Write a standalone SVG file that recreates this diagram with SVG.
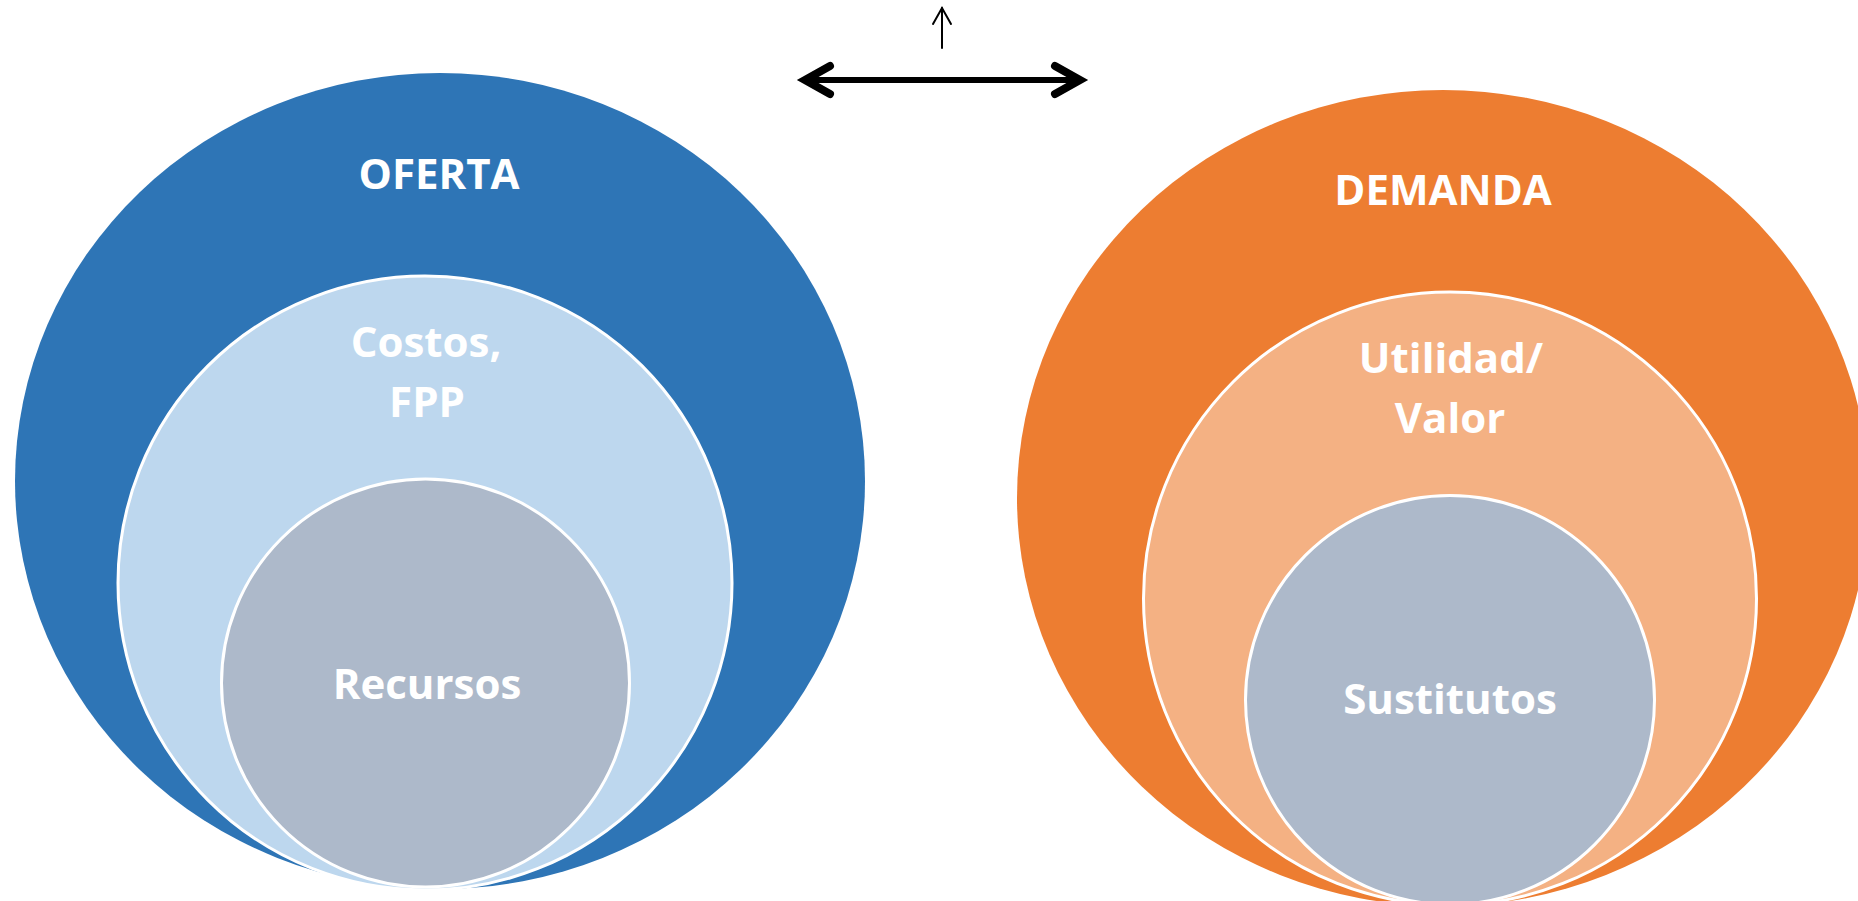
<svg xmlns="http://www.w3.org/2000/svg" width="1858" height="901" viewBox="0 0 1858 901">
<style>
.lbl{font-family:"Open Sans","Noto Sans","Liberation Sans",sans-serif;font-weight:bold;font-size:42px;fill:#FFFFFF;text-anchor:middle}
.inner{stroke:#FFFFFF;stroke-width:3}
.arr{fill:none;stroke:#000000;stroke-linecap:round}
</style>
<rect width="1858" height="901" fill="#FFFFFF"/>
<g id="oferta">
<ellipse cx="440" cy="481" rx="425" ry="408" fill="#2E75B6"/>
<text class="lbl" x="439" y="189">OFERTA</text>
</g>
<g id="costos">
<circle class="inner" cx="425" cy="583" r="307" fill="#BDD7EE"/>
<text class="lbl" x="426" y="357">Costos,</text>
<text class="lbl" x="427" y="417">FPP</text>
</g>
<g id="recursos">
<circle class="inner" cx="425.5" cy="683" r="204" fill="#ADB9CA"/>
<text class="lbl" x="427" y="699">Recursos</text>
</g>
<g id="demanda">
<ellipse cx="1443" cy="498" rx="426" ry="408" fill="#ED7D31"/>
<text class="lbl" x="1443" y="205">DEMANDA</text>
</g>
<g id="utilidad">
<circle class="inner" cx="1450" cy="598.5" r="306.5" fill="#F4B183"/>
<text class="lbl" x="1451" y="373">Utilidad/</text>
<text class="lbl" x="1450" y="433">Valor</text>
</g>
<g id="sustitutos">
<circle class="inner" cx="1450" cy="700" r="204.5" fill="#ADB9CA"/>
<text class="lbl" x="1450" y="714">Sustitutos</text>
</g>
<g id="connectors">
<line class="arr" x1="942" y1="48" x2="942" y2="8" stroke-width="2"/>
<polyline class="arr" points="933,24 942,8 951,24" stroke-width="2" stroke-linejoin="miter"/>
<line class="arr" x1="808" y1="80" x2="1077" y2="80" stroke-width="6"/>
<polyline class="arr" points="830,66 805,80 830,94" stroke-width="8" stroke-linejoin="miter"/>
<polyline class="arr" points="1055,66 1080,80 1055,94" stroke-width="8" stroke-linejoin="miter"/>
</g>
</svg>
